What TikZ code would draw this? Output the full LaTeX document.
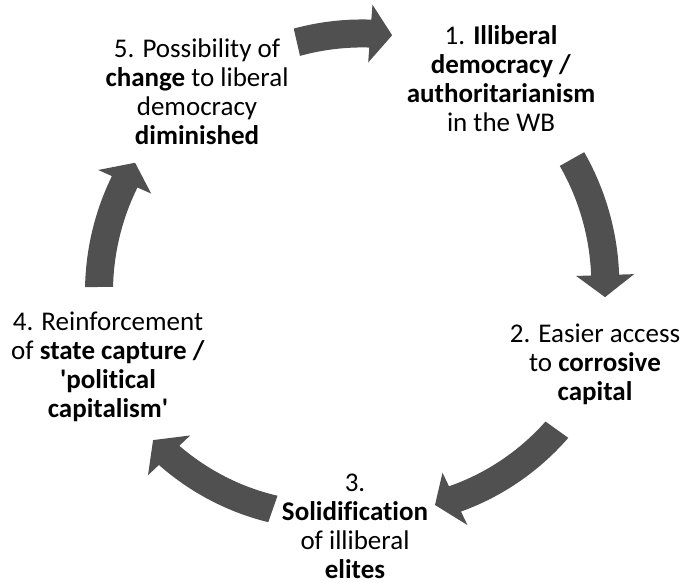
\documentclass[tikz,border=0pt]{standalone}
\usepackage{fontspec}
\setmainfont{Carlito}[Ligatures={TeX,NoCommon}]
\definecolor{arrowgray}{RGB}{80,80,80}
\newcommand\cyclearrow[4]{%
  \pgfmathsetmacro\aA{#1}\pgfmathsetmacro\rA{#2}%
  \pgfmathsetmacro\tT{#3}\pgfmathsetmacro\rT{#4}%
  \pgfmathsetmacro\bB{\tT-5}%
  \pgfmathsetmacro\rB{\rA+(\rT-\rA)*(\bB-\aA)/(\tT-\aA)}%
  \fill[arrowfill]
    plot[domain=\aA:\bB,samples=40]
      ({352+(\rA+(\rT-\rA)*(\x-\aA)/(\tT-\aA)+14)*cos(\x)},
       {283+(\rA+(\rT-\rA)*(\x-\aA)/(\tT-\aA)+14)*sin(\x)})
    -- ({352+(\rB+29)*cos(\bB)},{283+(\rB+29)*sin(\bB)})
    -- ({352+\rT*cos(\tT)},{283+\rT*sin(\tT)})
    -- ({352+(\rB-29)*cos(\bB)},{283+(\rB-29)*sin(\bB)})
    -- plot[domain=\bB:\aA,samples=40]
      ({352+(\rA+(\rT-\rA)*(\x-\aA)/(\tT-\aA)-14)*cos(\x)},
       {283+(\rA+(\rT-\rA)*(\x-\aA)/(\tT-\aA)-14)*sin(\x)})
    -- cycle;
}
\begin{document}
\begin{tikzpicture}[x=1pt,y=-1pt,
  arrowfill/.style={fill=arrowgray},
  label/.style={align=center,inner sep=0pt,font=\fontsize{27}{29}\selectfont,text=black}]
\useasboundingbox[fill=white] (0,0) rectangle (685,583);
% arrows
\cyclearrow{-102.9}{247}{-80.8}{251}
\cyclearrow{-29.4}{252.5}{3.2}{253.4}
\cyclearrow{35.6}{252}{69.5}{237}
\cyclearrow{109.3}{239.4}{141.7}{253.5}
\cyclearrow{179.1}{253}{209.0}{248}
% texts
\node[label] (n1) at (501,79) {1. \textbf{Illiberal}\\\textbf{democracy /}\\\textbf{authoritarianism}\\in the WB};
\node[label] (n2) at (595,364) {2. Easier access\\to \textbf{corrosive}\\\textbf{capital}};
\node[label] (n3) at (355,526) {3.\\\textbf{Solidification}\\of illiberal\\\textbf{elites}};
\node[label] (n4) at (108,367) {4. Reinforcement\\of \textbf{state capture /}\\\textbf{\textquotesingle political}\\\textbf{capitalism\textquotesingle}};
\node[label] (n5) at (197,92) {5. Possibility of\\\textbf{change} to liberal\\democracy\\\textbf{diminished}};
\end{tikzpicture}
\end{document}
